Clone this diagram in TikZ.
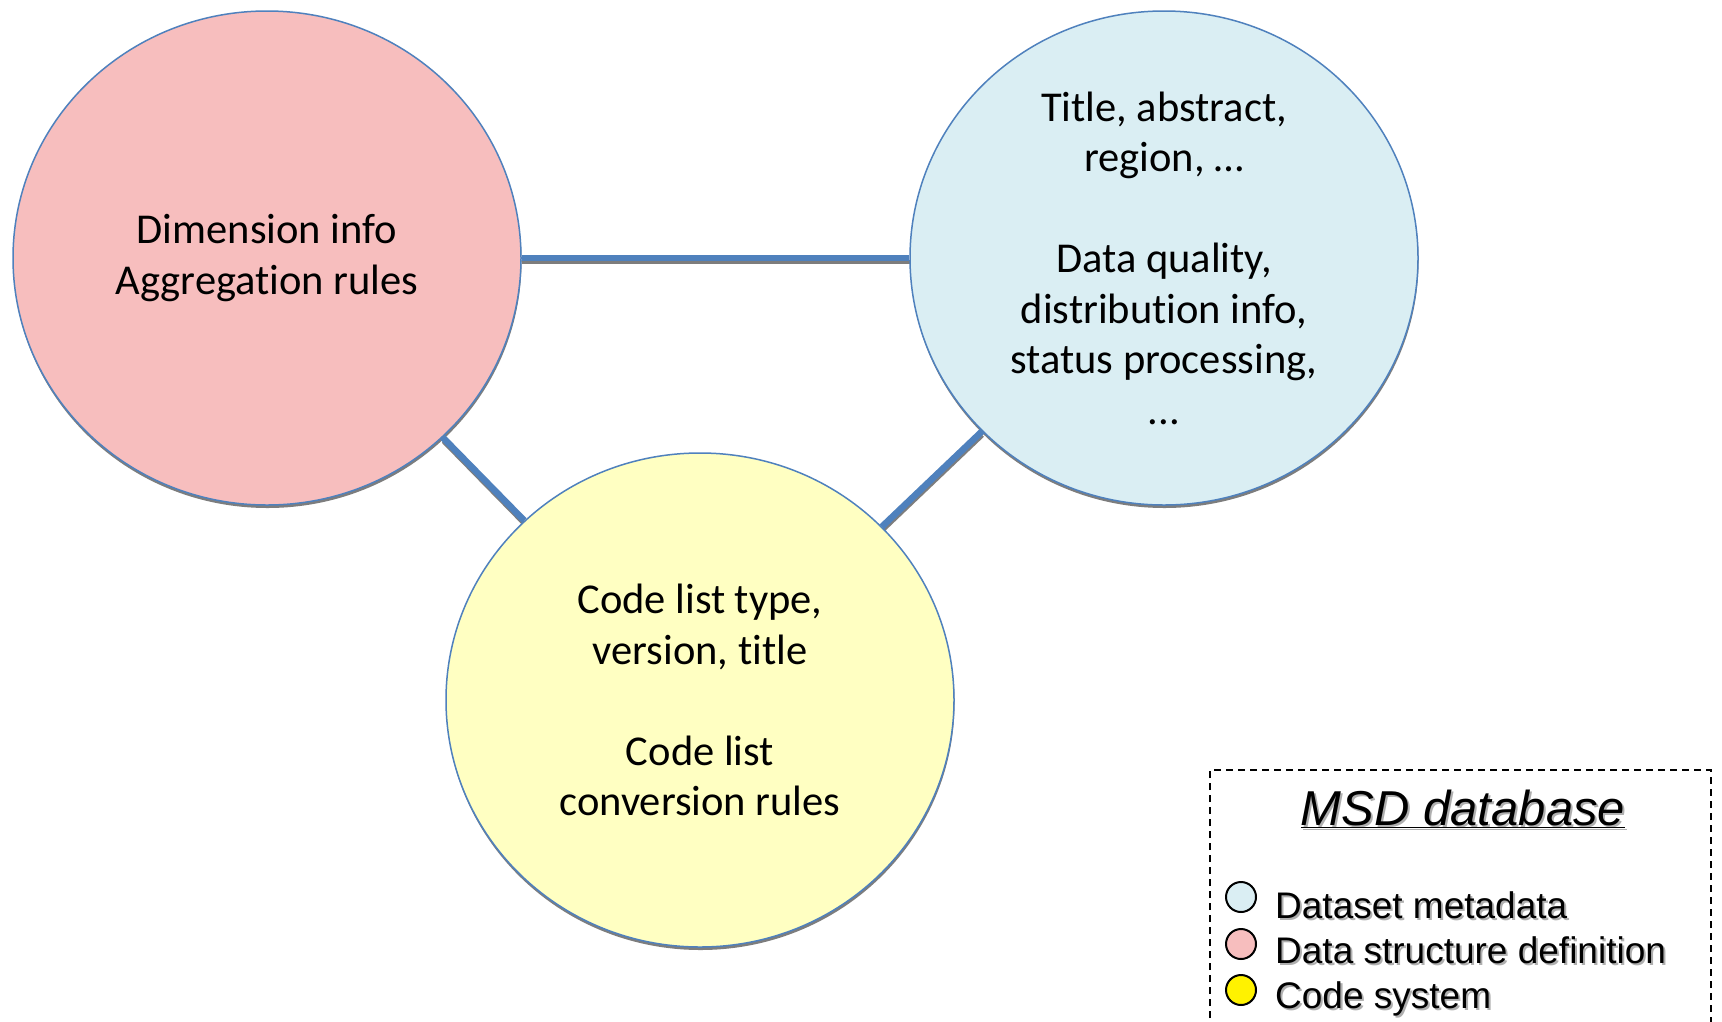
\documentclass[tikz,border=0pt]{standalone}
\usepackage{fontspec}
\setmainfont{Carlito}[Ligatures=NoCommon]
\newfontfamily\legendfont{Liberation Sans}
\usetikzlibrary{shapes.geometric,shadows,backgrounds}

\definecolor{ringblue}{RGB}{79,129,189}
\definecolor{dsfill}{RGB}{218,238,243}
\definecolor{dsdfill}{RGB}{247,190,190}
\definecolor{codefill}{RGB}{255,255,194}
\definecolor{shadowgray}{RGB}{125,125,125}
\definecolor{textshade}{RGB}{175,175,175}

\begin{document}
\begin{tikzpicture}[x=1pt,y=-1pt,
  topic/.style={ellipse, draw=ringblue, line width=1.5pt,
    minimum width=508pt, minimum height=494pt, inner sep=0pt,
    align=center, font=\fontsize{42.5}{50.5}\selectfont,
    drop shadow={shadow xshift=0.5pt, shadow yshift=-3pt,
      fill=shadowgray, opacity=1}},
  link/.style={ringblue, line width=6.5pt},
  linkshade/.style={shadowgray, line width=4pt,
    transform canvas={xshift=0.5pt, yshift=-4pt}},
  keydot/.style={circle, draw=black, line width=2pt, minimum size=30pt, inner sep=0pt},
  keytext/.style={anchor=base west, inner sep=0pt,
    font=\legendfont\fontsize{37}{44}\selectfont},
  keyshade/.style={keytext, text=textshade},
  legendbox/.style={draw=black, line width=1.5pt, dash pattern=on 7pt off 5pt}
]
\useasboundingbox (0,0) rectangle (1722,1021);

% the three metadata groups
\node[topic, fill=dsdfill] (dsd) at (267,258)
  {Dimension info\\Aggregation rules};
\node[topic, fill=dsfill] (meta) at (1164,258)
  {Title, abstract,\\region, …\\~\\Data quality,\\distribution info,\\status processing,\\...};
\node[topic, fill=codefill] (code) at (700,700)
  {Code list type,\\version, title\\~\\Code list\\conversion rules};

% white page and the connector shading, behind everything else
\begin{pgfonlayer}{background}
  \fill[white] (0,0) rectangle (1722,1021);
  \draw[linkshade] (dsd) -- (meta);
  \draw[linkshade] (dsd) -- (code);
  \draw[linkshade] (meta) -- (code);
\end{pgfonlayer}

% connectors between the groups
\draw[link] (dsd) -- (meta);
\draw[link] (dsd) -- (code);
\draw[link] (meta) -- (code);

% legend
\coordinate (boxbl) at (1210,1030);
\coordinate (boxtr) at (1711,770);
\coordinate (boxbr) at (1711,1030);
\draw[legendbox] (boxbl) |- (boxtr) -- (boxbr);

\node[anchor=base, inner sep=0pt, text=textshade,
  font=\legendfont\itshape\fontsize{49}{56}\selectfont] (titleshade) at (1465,827)
  {\underline{MSD database}};
\node[anchor=base, inner sep=0pt,
  font=\legendfont\itshape\fontsize{49}{56}\selectfont] (title) at (1463,825)
  {\underline{MSD database}};

\node[keydot, fill=dsfill] (k1) at (1241,897) {};
\node[keydot, fill=dsdfill] (k2) at (1241,944) {};
\node[keydot, fill=yellow] (k3) at (1241,990) {};

\node[keyshade] (t1s) at (1277,920) {Dataset metadata};
\node[keyshade] (t2s) at (1277,965) {Data structure definition};
\node[keyshade] (t3s) at (1277,1010) {Code system};
\node[keytext] (t1) at (1275,918) {Dataset metadata};
\node[keytext] (t2) at (1275,963) {Data structure definition};
\node[keytext] (t3) at (1275,1008) {Code system};
\end{tikzpicture}
\end{document}
